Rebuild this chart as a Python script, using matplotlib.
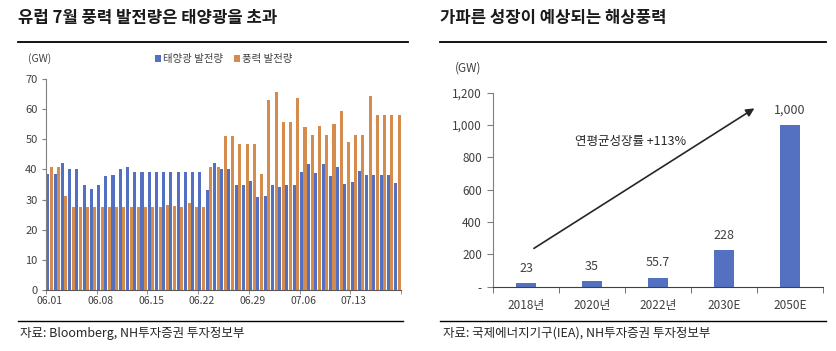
import numpy as np
import matplotlib
matplotlib.use('Agg')
import matplotlib.pyplot as plt
from matplotlib.lines import Line2D

plt.rcParams['font.family'] = ['Noto Sans CJK KR', 'DejaVu Sans']

# --- left chart data: daily generation, 06.01 ~ 07.19 (GW)
solar = [38.5, 38.5, 42.2, 40.2, 40.2, 35.0, 33.5, 34.7, 37.8, 38.1,
         40.2, 40.8, 39.2, 39.2, 39.2, 39.2, 39.2, 39.2, 39.2, 39.2,
         39.2, 39.2, 33.2, 42.2, 40.3, 40.3, 34.7, 34.7, 36.1, 30.8,
         31.1, 34.7, 34.1, 34.7, 34.9, 39.2, 41.9, 38.8, 41.9, 37.9,
         40.8, 35.2, 35.9, 39.5, 38.0, 38.0, 38.0, 38.3, 35.4]
wind = [40.7, 40.7, 31.1, 27.6, 27.6, 27.6, 27.6, 27.6, 27.6, 27.6,
        27.4, 27.6, 27.6, 27.6, 27.6, 27.6, 28.3, 28.0, 27.6, 28.7,
        27.6, 27.6, 40.8, 40.7, 51.2, 51.2, 48.4, 48.4, 48.4, 38.5,
        63.1, 65.6, 55.8, 55.8, 63.7, 54.0, 51.3, 54.3, 51.3, 55.1,
        59.5, 49.0, 51.5, 51.5, 64.2, 57.9, 57.9, 57.9, 57.9]
date_labels = ['06.01', '06.08', '06.15', '06.22', '06.29', '07.06', '07.13']
legend_names = ['태양광 발전량', '풍력 발전량']

# --- right chart data: offshore wind capacity (GW)
years = ['2018년', '2020년', '2022년', '2030E', '2050E']
capacity = [23, 35, 55.7, 228, 1000]
cap_labels = ['23', '35', '55.7', '228', '1,000']

BLUE = '#5470C1'
ORANGE = '#D58A4E'
TICK_C = '#404040'

fig = plt.figure(figsize=(8.37, 3.51), dpi=100)

# ---------------- left panel ----------------
ax1 = fig.add_axes([46 / 837, 61 / 351, 355 / 837, 211 / 351])
x = np.arange(len(solar))
ax1.bar(x - 0.25, solar, width=0.42, color=BLUE, label=legend_names[0])
ax1.bar(x + 0.25, wind, width=0.42, color=ORANGE, label=legend_names[1])
ax1.set_xlim(-0.5, len(solar) - 0.5)
ax1.set_ylim(0, 70)
ax1.set_yticks(range(0, 71, 10))
ax1.set_xticks(np.arange(0, len(solar), 7))
ax1.set_xticklabels(date_labels)
ax1.set_xticks(np.arange(-0.5, len(solar), 7), minor=True)
ax1.tick_params(axis='x', which='major', length=0, labelsize=7.5, colors=TICK_C, pad=4)
ax1.tick_params(axis='x', which='minor', length=3, color='#808080')
ax1.tick_params(axis='y', length=3, labelsize=8, colors=TICK_C, color='#808080', pad=3)
for s in ['top', 'right']:
    ax1.spines[s].set_visible(False)
ax1.spines['left'].set_color('#808080')
ax1.spines['bottom'].set_color('#595959')
ax1.legend(loc='center', bbox_to_anchor=(0.50, 1.095), ncol=2, frameon=False,
           fontsize=7.5, handlelength=0.6, handleheight=0.6, handletextpad=0.2,
           columnspacing=1.0, labelcolor=TICK_C)
fig.text(28 / 837, 1 - 59 / 351, '(GW)', fontsize=7.5, color=TICK_C, va='center')

# ---------------- right panel ----------------
ax2 = fig.add_axes([493 / 837, 64.3 / 351, 330 / 837, 194 / 351])
xr = np.arange(len(years))
ax2.bar(xr, capacity, width=0.31, color=BLUE)
ax2.set_xlim(-0.5, len(years) - 0.5)
ax2.set_ylim(0, 1200)
ax2.set_yticks(range(0, 1201, 200))
ax2.set_yticklabels(['-', '200', '400', '600', '800', '1,000', '1,200'])
ax2.set_xticks(xr)
ax2.set_xticklabels(years)
ax2.set_xticks(np.arange(-0.5, len(years), 1), minor=True)
ax2.tick_params(axis='x', which='major', length=0, labelsize=8.5, colors=TICK_C, pad=9)
ax2.tick_params(axis='x', which='minor', length=4, color='#595959')
ax2.tick_params(axis='y', length=4, labelsize=8.5, colors=TICK_C, color='#808080', pad=4)
for s in ['top', 'right']:
    ax2.spines[s].set_visible(False)
ax2.spines['left'].set_color('#808080')
ax2.spines['bottom'].set_color('#404040')
for xi, v, lab in zip(xr, capacity, cap_labels):
    ax2.annotate(lab, (xi, v), xytext=(0, 6), textcoords='offset points',
                 ha='center', va='bottom', fontsize=9, color=TICK_C)
ax2.annotate('', xy=(3.46, 1103), xytext=(0.12, 237),
             arrowprops=dict(arrowstyle='-|>', color='#262626', lw=1.2,
                             mutation_scale=12, shrinkA=0, shrinkB=0))
ax2.text(1.58, 897, '연평균성장률 +113%', ha='center', va='center', fontsize=9, color='#262626')
fig.text(455 / 837, 1 - 68 / 351, '(GW)', fontsize=8.5, color=TICK_C, va='center')

# ---------------- titles, rules, sources ----------------
fig.text(18 / 837, 1 - 18 / 351, '유럽 7월 풍력 발전량은 태양광을 초과', fontsize=12,
         fontweight='bold', va='center', color='#1a1a1a')
fig.text(440 / 837, 1 - 18 / 351, '가파른 성장이 예상되는 해상풍력', fontsize=12,
         fontweight='bold', va='center', color='#1a1a1a')
for x0, x1 in [(18, 408), (440, 826)]:
    fig.add_artist(Line2D([x0 / 837, x1 / 837], [1 - 42 / 351] * 2, color='black', lw=1.3))
for x0, x1 in [(18, 403), (440, 826)]:
    fig.add_artist(Line2D([x0 / 837, x1 / 837], [1 - 320.7 / 351] * 2, color='black', lw=1.0))
fig.text(20 / 837, 1 - 333 / 351, '자료: Bloomberg, NH투자증권 투자정보부', fontsize=9,
         va='center', color='#262626')
fig.text(443 / 837, 1 - 333 / 351, '자료: 국제에너지기구(IEA), NH투자증권 투자정보부', fontsize=9,
         va='center', color='#262626')

fig.savefig('out.png', dpi=100, facecolor='white')
